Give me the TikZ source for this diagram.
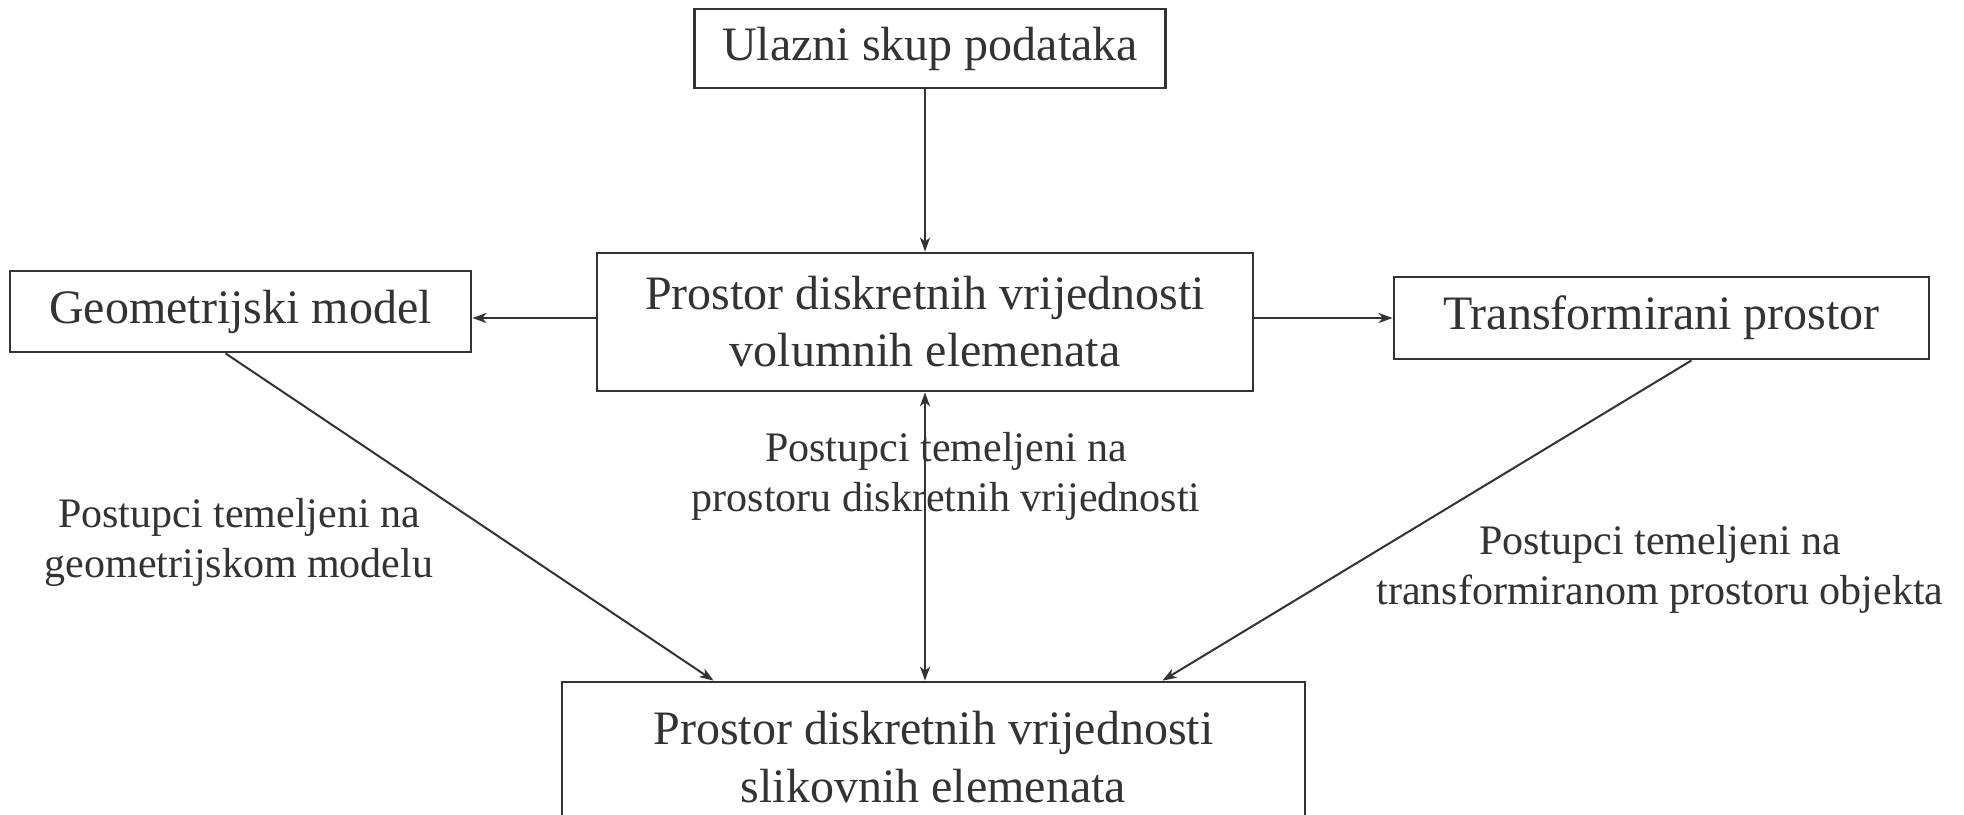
\documentclass[tikz,border=0pt]{standalone}
\usepackage{fontspec}
\setmainfont{Liberation Serif}
\usetikzlibrary{arrows.meta,calc}
\definecolor{ink}{HTML}{333333}
\tikzset{
  box/.style={draw=ink, line width=1.4bp, text=ink, inner sep=0pt, align=center,
    font=\fontsize{24bp}{28.5bp}\selectfont},
  lbl/.style={text=ink, inner sep=0pt, align=center,
    font=\fontsize{21bp}{25bp}\selectfont},
  conn/.style={draw=ink, line width=1bp},
  arr/.style={conn, -{Stealth[length=7bp,width=5bp,inset=2bp]}},
  darr/.style={conn, {Stealth[length=7bp,width=5bp,inset=2bp]}-{Stealth[length=7bp,width=5bp,inset=2bp]}}
}
\begin{document}
\begin{tikzpicture}[x=0.5bp,y=-0.5bp]
\clip (0,0) rectangle (1964,814);
\fill[white] (0,0) rectangle (1964,814);
\node[box, minimum width=471*0.5bp, minimum height=79*0.5bp] (top) at (930,48.5) {Ulazni skup podataka};
\node[box, minimum width=656*0.5bp, minimum height=138*0.5bp] (mid) at (925,322) {Prostor diskretnih vrijednosti\\volumnih elemenata};
\node[box, minimum width=461*0.5bp, minimum height=81*0.5bp] (geom) at (240.5,311.5) {Geometrijski model};
\node[box, minimum width=535*0.5bp, minimum height=82*0.5bp] (trans) at (1661.5,318) {Transformirani prostor};
\node[box, minimum width=743*0.5bp, minimum height=150*0.5bp, font=\fontsize{24bp}{29bp}\selectfont] (bot) at (933.5,757) {Prostor diskretnih vrijednosti\\slikovnih elemenata};

\node[lbl] (lmid) at (946,476) {Postupci temeljeni na\\prostoru diskretnih vrijednosti};
\node[lbl] (lgeom) at (239,542) {Postupci temeljeni na\\geometrijskom modelu};
\node[lbl] (ltrans) at (1660,569) {Postupci temeljeni na\\transformiranom prostoru objekta};

\coordinate (mw) at ([yshift=4*0.5bp]mid.west);
\coordinate (me) at ([yshift=4*0.5bp]mid.east);
\draw[arr] (mid.north |- top.south) -- (mid.north);
\draw[arr] (mw) -- (mw -| geom.east);
\draw[arr] (me) -- (me -| trans.west);
\draw[darr] (mid.south) -- (mid.south |- bot.north);
\coordinate (g1) at ([xshift=-15*0.5bp]geom.south);
\coordinate (b1) at ([xshift=-220*0.5bp]bot.north);
\draw[arr] (g1) -- (b1);
\coordinate (t1) at ([xshift=30*0.5bp]trans.south);
\coordinate (b2) at ([xshift=229*0.5bp]bot.north);
\draw[arr] (t1) -- (b2);
\end{tikzpicture}
\end{document}
